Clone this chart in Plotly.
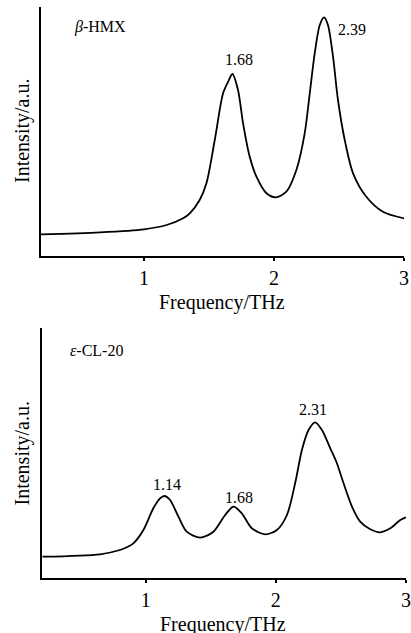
import plotly.graph_objects as go

# ---- data ----
hmx_freq = [0.205, 0.66, 1.0, 1.174, 1.30, 1.352, 1.428, 1.48, 1.544, 1.608, 1.646, 1.68,
            1.723, 1.762, 1.813, 1.865, 1.942, 2.013, 2.095, 2.172, 2.236, 2.275, 2.313,
            2.352, 2.385, 2.415, 2.454, 2.492, 2.544, 2.608, 2.71, 2.838, 3.0]
hmx_int = [21.7, 23.7, 26.7, 31, 37.7, 42.7, 56, 72.7, 116, 162.7, 174, 182,
           166, 132.7, 99.3, 79.3, 62.7, 58.7, 64.3, 86, 122.7, 162.7, 202.7,
           231, 238.7, 231, 199.3, 156, 116, 82.7, 59.3, 44.3, 37.7]

cl20_freq = [0.205, 0.649, 0.802, 0.854, 0.905, 0.982, 1.058, 1.11, 1.143, 1.187, 1.251,
             1.315, 1.418, 1.52, 1.61, 1.674, 1.738, 1.815, 1.918, 2.008, 2.085, 2.148,
             2.2, 2.251, 2.302, 2.354, 2.418, 2.469, 2.52, 2.585, 2.648, 2.725, 2.802,
             2.879, 2.956, 3.0]
cl20_int = [21.6, 24, 28.3, 31, 35, 48.3, 70, 80, 82.3, 78.3, 61.6,
            46.6, 40.6, 46.6, 63.3, 71.6, 65, 50, 44, 48.3, 63.3, 95,
            128.3, 148.3, 156, 148.3, 130, 115, 95, 71.6, 56.6, 49, 46,
            50, 58.3, 61]

x_ticks = [1, 2, 3]
x_tick_text = ["1", "2", "3"]

hmx_peak_labels = ["1.68", "2.39"]
hmx_peak_x = [1.728, 2.598]
hmx_peak_y = [197, 227]

cl20_peak_labels = ["1.14", "1.68", "2.31"]
cl20_peak_x = [1.162, 1.718, 2.289]
cl20_peak_y = [94.3, 81.3, 169.3]

panel_names = ["<i>β</i>-HMX", "<i>ε</i>-CL-20"]
x_title = "Frequency/THz"
y_title = "Intensity/a.u."

# ---- figure ----
W, H = 411, 633
FONT = "Liberation Serif"

def px_x(p):
    return p / W

def px_y(p):
    return (H - p) / H

fig = go.Figure()
fig.add_trace(go.Scatter(x=hmx_freq, y=hmx_int, mode="lines",
                         line=dict(color="black", width=1.8, shape="spline", smoothing=0.8),
                         xaxis="x", yaxis="y", showlegend=False))
fig.add_trace(go.Scatter(x=cl20_freq, y=cl20_int, mode="lines",
                         line=dict(color="black", width=1.8, shape="spline", smoothing=0.8),
                         xaxis="x2", yaxis="y2", showlegend=False))

xcommon = dict(range=[0.205, 3.0], tickvals=x_ticks, ticktext=x_tick_text,
               ticks="outside", ticklen=3, tickwidth=1.5, tickcolor="black",
               showline=True, linecolor="black", linewidth=2, mirror=False,
               showgrid=False, zeroline=False, ticklabelstandoff=0,
               tickfont=dict(family=FONT, size=20, color="black"))
ycommon = dict(range=[0, 249], showticklabels=False, ticks="", showline=True,
               linecolor="black", linewidth=2, showgrid=False, zeroline=False)

fig.update_layout(
    width=W, height=H,
    font=dict(family=FONT, color="black"),
    margin=dict(l=0, r=0, t=0, b=0, autoexpand=False),
    paper_bgcolor="white", plot_bgcolor="white",
    xaxis=dict(domain=[px_x(40.7), px_x(404)], anchor="y", **xcommon),
    yaxis=dict(domain=[px_y(256), px_y(7)], anchor="x", **ycommon),
    xaxis2=dict(domain=[px_x(42.3), px_x(406)], anchor="y2", **xcommon),
    yaxis2=dict(domain=[px_y(578.3), px_y(328.3)], anchor="x2", **dict(ycommon, range=[0, 250])),
    showlegend=False,
)

ann = []
for t, x, y in zip(hmx_peak_labels, hmx_peak_x, hmx_peak_y):
    ann.append(dict(text=t, x=x, y=y, xref="x", yref="y", showarrow=False,
                    font=dict(family=FONT, size=16, color="black")))
for t, x, y in zip(cl20_peak_labels, cl20_peak_x, cl20_peak_y):
    ann.append(dict(text=t, x=x, y=y, xref="x2", yref="y2", showarrow=False,
                    font=dict(family=FONT, size=16, color="black")))
ann.append(dict(text=panel_names[0], x=0.444, y=229, xref="x", yref="y", xanchor="left",
                showarrow=False, font=dict(family=FONT, size=16, color="black")))
ann.append(dict(text=panel_names[1], x=0.402, y=228.3, xref="x2", yref="y2", xanchor="left",
                showarrow=False, font=dict(family=FONT, size=16, color="black")))
# axis titles
for cx, cy in [(222.5, 303), (223.5, 624)]:
    ann.append(dict(text=x_title, x=px_x(cx), y=px_y(cy), xref="paper", yref="paper",
                    showarrow=False, xanchor="center", yanchor="middle",
                    font=dict(family=FONT, size=20, color="black")))
for cx, cy in [(22, 131), (22, 453.5)]:
    ann.append(dict(text=y_title, x=px_x(cx), y=px_y(cy), xref="paper", yref="paper",
                    showarrow=False, xanchor="center", yanchor="middle", textangle=-90,
                    font=dict(family=FONT, size=20, color="black")))
fig.update_layout(annotations=ann)

fig.write_html("out.html", config={"displayModeBar": False},
               post_script="document.body.style.margin='0';")
